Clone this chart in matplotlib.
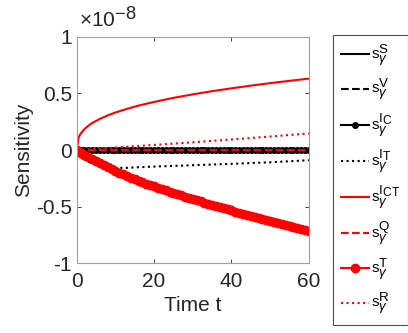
import matplotlib
matplotlib.use("Agg")
import matplotlib.pyplot as plt
import matplotlib._mathtext as _mt

_mt.SHRINK_FACTOR = 0.88

plt.rcParams['font.family'] = ['Liberation Sans', 'DejaVu Sans']
plt.rcParams['mathtext.fontset'] = 'custom'
plt.rcParams['mathtext.rm'] = 'Liberation Sans'
plt.rcParams['mathtext.it'] = 'Liberation Sans:italic'
plt.rcParams['mathtext.bf'] = 'Liberation Sans:bold'

# ---- data (values in units of 1e-8) ----
t_line = [0, 60]
s_S = [0.0, 0.0]
s_V = [0.0, 0.0]
s_Q = [0.0, 0.0]

t_fine = list(range(61))
s_IC = [0.0] * 61
s_T = [0, -0.022, -0.043, -0.063, -0.082, -0.100,
       -0.118, -0.135, -0.152, -0.169, -0.185,
       -0.200, -0.215, -0.229, -0.243, -0.257,
       -0.270, -0.283, -0.296, -0.309, -0.321,
       -0.333, -0.345, -0.357, -0.368, -0.379,
       -0.390, -0.401, -0.412, -0.423, -0.433,
       -0.444, -0.454, -0.464, -0.474, -0.484,
       -0.494, -0.504, -0.514, -0.524, -0.533,
       -0.543, -0.553, -0.562, -0.571, -0.580,
       -0.590, -0.599, -0.608, -0.617, -0.626,
       -0.635, -0.644, -0.653, -0.662, -0.671,
       -0.680, -0.689, -0.698, -0.707, -0.715]

t_ICT = [0, 0.5, 1, 2, 3, 4, 6, 8, 10, 13, 16, 20, 25, 30, 35, 40, 45, 50, 55, 60]
s_ICT = [0, 0.112, 0.144, 0.185, 0.214, 0.238, 0.275, 0.305, 0.331, 0.363,
         0.392, 0.424, 0.460, 0.491, 0.519, 0.544, 0.568, 0.590, 0.610, 0.630]

t_IT = [0, 1, 2, 4, 6, 8, 10, 13, 16, 20, 25, 30, 40, 50, 60]
s_IT = [0, -0.050, -0.085, -0.120, -0.140, -0.152, -0.157, -0.157, -0.152,
        -0.146, -0.140, -0.134, -0.122, -0.108, -0.090]

t_R = [0, 10, 20, 30, 40, 50, 60]
s_R = [0, 0.022, 0.045, 0.068, 0.093, 0.119, 0.146]

labels = [r'$\mathrm{s}^{\mathrm{S}}_{\gamma}$', r'$\mathrm{s}^{\mathrm{V}}_{\gamma}$',
          r'$\mathrm{s}^{\mathrm{I}_{\mathrm{C}}}_{\gamma}$', r'$\mathrm{s}^{\mathrm{I}_{\mathrm{T}}}_{\gamma}$',
          r'$\mathrm{s}^{\mathrm{I}_{\mathrm{CT}}}_{\gamma}$', r'$\mathrm{s}^{\mathrm{Q}}_{\gamma}$',
          r'$\mathrm{s}^{\mathrm{T}}_{\gamma}$', r'$\mathrm{s}^{\mathrm{R}}_{\gamma}$']

xticks = [0, 20, 40, 60]
yticks = [-1, -0.5, 0, 0.5, 1]
yticklabels = ['-1', '-0.5', '0', '0.5', '1']

fig = plt.figure(figsize=(4.08, 3.33), dpi=100)
ax = fig.add_axes([0.188, 0.209, 0.569, 0.681])

lw = 1.5
ax.plot(t_line, s_S, color='black', ls='-', lw=lw, label=labels[0])
ax.plot(t_line, s_V, color='black', ls='--', lw=lw, label=labels[1])
ax.plot(t_fine, s_IC, color='black', ls='-', lw=lw, marker='o', ms=4, label=labels[2])
ax.plot(t_IT, s_IT, color='black', ls=':', lw=lw, label=labels[3])
ax.plot(t_ICT, s_ICT, color='red', ls='-', lw=lw, label=labels[4])
ax.plot(t_line, s_Q, color='red', ls='--', lw=lw, label=labels[5])
ax.plot(t_fine, s_T, color='red', ls='-', lw=lw, marker='o', ms=6, label=labels[6])
ax.plot(t_R, s_R, color='red', ls=':', lw=lw, label=labels[7])

ax.set_xlim(0, 60)
ax.set_ylim(-1, 1)
ax.set_xticks(xticks)
ax.set_yticks(yticks)
ax.set_yticklabels(yticklabels)
ax.tick_params(direction='in', length=3, labelsize=15, colors='#262626',
               top=True, right=True, labeltop=False, labelright=False, width=0.6)
ax.tick_params(axis='x', pad=6)
for sp in ax.spines.values():
    sp.set_color('#a0a0a0')
    sp.set_linewidth(0.8)

ax.set_xlabel('Time t', fontsize=15, color='#262626', labelpad=4)
ax.set_ylabel('Sensitivity', fontsize=15, color='#262626', labelpad=2)

fig.text(0.188 + 0.005, 0.905, r'$\times\mathrm{10}^{\mathrm{-8}}$', fontsize=15,
         color='#262626', ha='left', va='bottom')

leg = fig.legend(loc='upper left', bbox_to_anchor=(333 / 408, 1 - 35 / 333),
                 bbox_transform=fig.transFigure, fontsize=11, numpoints=1,
                 handlelength=1.85, handletextpad=0.15, labelspacing=0.55,
                 borderpad=0.5, borderaxespad=0.0, frameon=True, fancybox=False)
leg.get_frame().set_edgecolor('#262626')
leg.get_frame().set_linewidth(0.8)

fig.savefig('out.png', dpi=100)
